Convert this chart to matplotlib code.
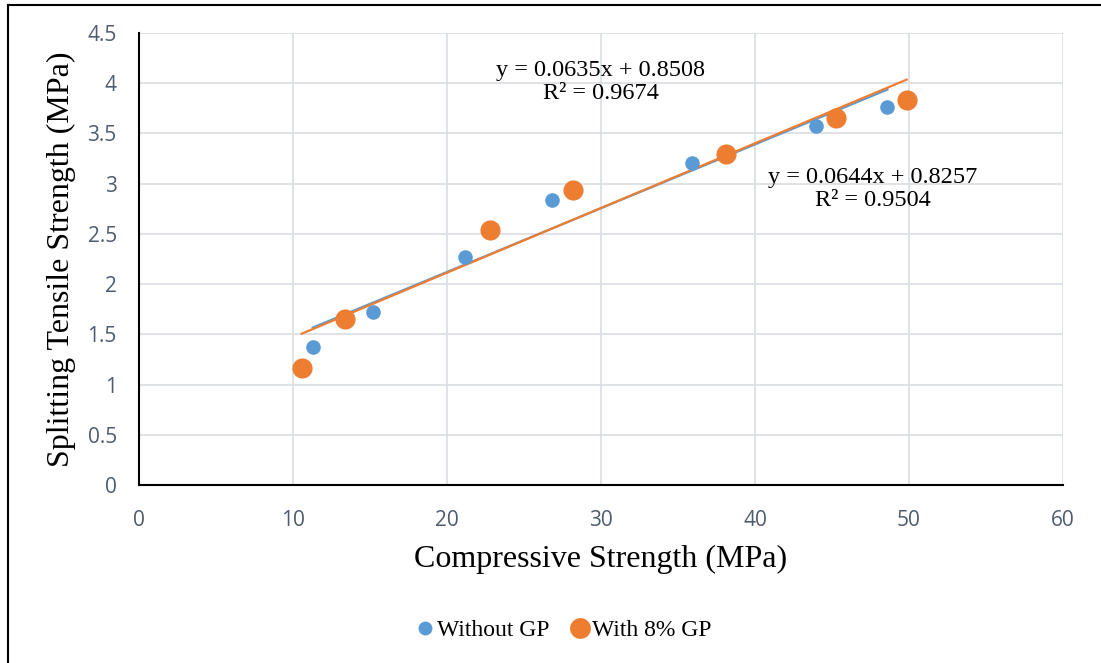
import matplotlib
matplotlib.use("Agg")
import matplotlib.pyplot as plt
from matplotlib.lines import Line2D
import numpy as np

# Data
without_x = [11.28, 15.19, 21.17, 26.8, 35.93, 43.94, 48.6]
without_y = [1.37, 1.72, 2.266, 2.836, 3.207, 3.572, 3.764]
with_x = [10.56, 13.38, 22.8, 28.2, 38.14, 45.24, 49.85]
with_y = [1.167, 1.65, 2.537, 2.935, 3.30, 3.652, 3.83]

without_fit = [0.0635, 0.8508]   # slope, intercept
with_fit = [0.0644, 0.8257]
without_eq = ["y = 0.0635x + 0.8508", "R² = 0.9674"]
with_eq = ["y = 0.0644x + 0.8257", "R² = 0.9504"]

x_ticks = [0, 10, 20, 30, 40, 50, 60]
y_ticks = [0, 0.5, 1, 1.5, 2, 2.5, 3, 3.5, 4, 4.5]
y_tick_labels = ["0", "0.5", "1", "1.5", "2", "2.5", "3", "3.5", "4", "4.5"]

BLUE = "#5B9BD5"
ORANGE = "#ED7D31"
TICK_COLOR = "#4F5B6E"
GRID = "#DCE0E6"

fig = plt.figure(figsize=(11.01, 6.63), dpi=100)
ax = fig.add_axes([139 / 1101, 1 - 485 / 663, (1063 - 139) / 1101, (485 - 33) / 663])

ax.set_xlim(0, 60)
ax.set_ylim(0, 4.5)
ax.set_xticks(x_ticks)
ax.set_yticks(y_ticks)
ax.set_yticklabels(y_tick_labels)
ax.grid(True, color=GRID, linewidth=1.3, zorder=0)
ax.set_axisbelow(True)
for s in ["top", "right"]:
    ax.spines[s].set_visible(False)
for s in ["left", "bottom"]:
    ax.spines[s].set_color("black")
    ax.spines[s].set_linewidth(1.5)
    ax.spines[s].set_zorder(1)

ax.tick_params(axis="both", length=0, labelcolor=TICK_COLOR, labelsize=15)
ax.tick_params(axis="y", pad=16)
ax.tick_params(axis="x", pad=18)
for lab in ax.get_xticklabels() + ax.get_yticklabels():
    lab.set_fontfamily("Open Sans")

# Trendlines
xb = np.array([min(without_x), max(without_x)])
ax.plot(xb, without_fit[0] * xb + without_fit[1], color=BLUE, lw=1.6, zorder=2)
xo = np.array([min(with_x), max(with_x)])
ax.plot(xo, with_fit[0] * xo + with_fit[1], color=ORANGE, lw=1.6, zorder=3)

# Scatter
ax.scatter(without_x, without_y, s=10.5 ** 2, color=BLUE, zorder=4, label="Without GP", linewidths=0)
ax.scatter(with_x, with_y, s=14.5 ** 2, color=ORANGE, zorder=5, label="With 8% GP", linewidths=0)

serif = "Liberation Serif"
ax.text(30.0, 4.01, without_eq[0] + "\n" + without_eq[1], ha="center", va="center",
        fontsize=17.5, family=serif, linespacing=1.15)
ax.text(47.66, 2.945, with_eq[0] + "\n" + with_eq[1], ha="center", va="center",
        fontsize=17.5, family=serif, linespacing=1.15)

ax.set_xlabel("Compressive Strength (MPa)", fontsize=23, family=serif, labelpad=10)
ax.set_ylabel("Splitting Tensile Strength (MPa)", fontsize=23, family=serif, labelpad=8)

handles = [
    Line2D([], [], marker="o", ls="none", color=BLUE, markersize=10, markeredgewidth=0),
    Line2D([], [], marker="o", ls="none", color=ORANGE, markersize=15, markeredgewidth=0),
]
fig.legend(handles, ["Without GP", "With 8% GP"], loc="center", bbox_to_anchor=(562 / 1101, 1 - 630 / 663),
           ncol=2, frameon=False, prop={"family": serif, "size": 17}, handletextpad=0.0,
           columnspacing=0.8, handlelength=1.0)

# Outer frame (top and left edges visible)
fig.add_artist(Line2D([8 / 1101, 1.0], [1 - 5 / 663, 1 - 5 / 663], transform=fig.transFigure, color="black", lw=1.5))
fig.add_artist(Line2D([8 / 1101, 8 / 1101], [0.0, 1 - 5 / 663], transform=fig.transFigure, color="black", lw=1.5))

fig.savefig("out.png", dpi=100)
